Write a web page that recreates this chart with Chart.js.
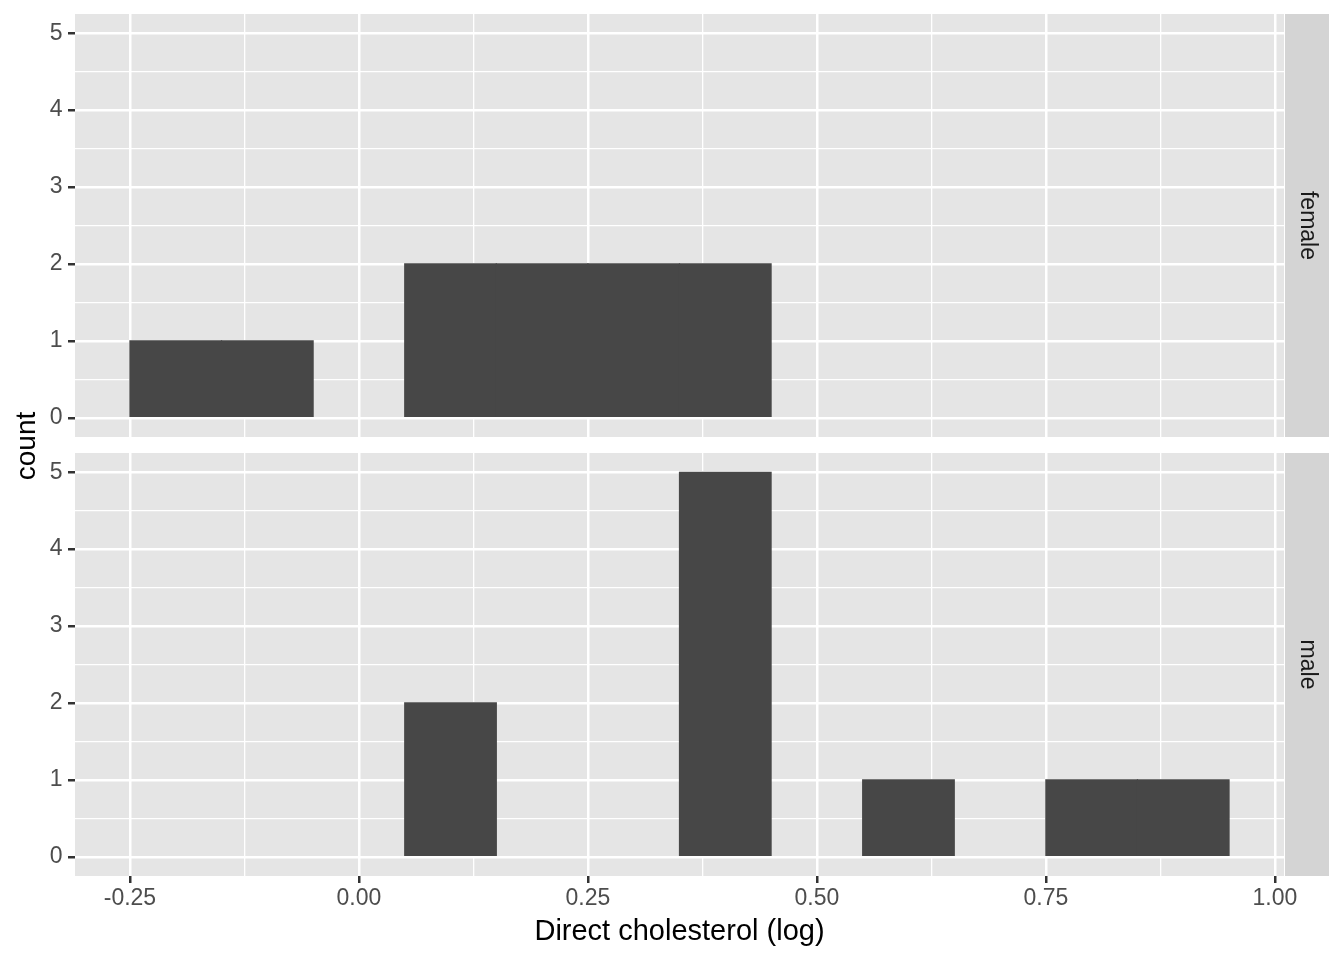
<!DOCTYPE html>
<html><head><meta charset="utf-8">
<script src="https://cdn.jsdelivr.net/npm/chart.js@4.4.1/dist/chart.umd.min.js"></script>
<style>
html,body{margin:0;padding:0;background:#fff;}
#wrap{position:relative;width:1344px;height:960px;overflow:hidden;background:#fff;}
canvas{position:absolute;left:0;}
#ylab{position:absolute;left:-74px;top:432px;width:200px;height:28px;line-height:28px;text-align:center;
  font-family:"Liberation Sans",Arial,sans-serif;font-size:28px;color:#000;transform:rotate(-90deg);transform-origin:50% 50%;white-space:nowrap;}
</style></head><body>
<div id="wrap">
<canvas id="c1" width="1344" height="445" style="top:0;width:1344px;height:445px"></canvas>
<canvas id="c2" width="1344" height="515" style="top:445px;width:1344px;height:515px"></canvas>
<div id="ylab"></div>
</div>
<script>
// ---- data ----
const binCenters = [-0.2, -0.1, 0.0, 0.1, 0.2, 0.3, 0.4, 0.5, 0.6, 0.7, 0.8, 0.9];
const femaleCounts = [1, 1, 0, 2, 2, 2, 2, 0, 0, 0, 0, 0];
const maleCounts   = [0, 0, 0, 2, 0, 0, 5, 0, 1, 0, 1, 1];
const panelLabels = ['female', 'male'];
const xTickValues = [-0.25, -0.125, 0, 0.125, 0.25, 0.375, 0.5, 0.625, 0.75, 0.875, 1.0];
const yTickValues = [0, 0.5, 1, 1.5, 2, 2.5, 3, 3.5, 4, 4.5, 5];
const xTitle = 'Direct cholesterol (log)';
const yTitle = 'count';

// ---- style ----
const FONT = '"Liberation Sans", Arial, sans-serif';
const PANEL_BG = '#E5E5E5';
const STRIP_BG = '#D4D4D4';
const BAR = '#474747';
const TICK_TXT = '#4D4D4D';
const TICK_MARK = '#333333';

document.getElementById('ylab').textContent = yTitle;
Chart.defaults.font.family = FONT;

const isMajorX = v => Math.abs(v * 4 - Math.round(v * 4)) < 1e-6;
const isMajorY = v => Math.abs(v - Math.round(v)) < 1e-6;

const panelPlugin = {
  id: 'panel',
  beforeDraw(chart) {
    const a = chart.chartArea, ctx = chart.ctx;
    ctx.save();
    ctx.fillStyle = PANEL_BG;
    ctx.fillRect(a.left, a.top, a.right - a.left, a.bottom - a.top);
    ctx.restore();
  },
  afterDraw(chart, args, opts) {
    const a = chart.chartArea, ctx = chart.ctx;
    ctx.save();
    ctx.fillStyle = STRIP_BG;
    ctx.fillRect(a.right + 1, a.top, 44, a.bottom - a.top);
    ctx.translate(a.right + 1 + 22, (a.top + a.bottom) / 2);
    ctx.rotate(Math.PI / 2);
    ctx.fillStyle = '#1A1A1A';
    ctx.font = '23px ' + FONT;
    ctx.textAlign = 'center';
    ctx.textBaseline = 'middle';
    ctx.fillText(opts.label, 0, 0);
    ctx.restore();
  }
};

function makeChart(id, counts, label, showXAxis) {
  const data = binCenters.map((x, i) => ({x: x, y: counts[i] > 0 ? counts[i] : null}));
  return new Chart(document.getElementById(id), {
    type: 'bar',
    data: {datasets: [{data: data, backgroundColor: BAR, borderWidth: 0, inflateAmount: 0.6,
      barPercentage: 1, categoryPercentage: 1}]},
    plugins: [panelPlugin],
    options: {
      responsive: false, animation: false, devicePixelRatio: 1, events: [],
      layout: {padding: showXAxis ? {top: 8, right: 60, bottom: 0, left: 0}
                                  : {top: 14, right: 60, bottom: 8, left: 0}},
      plugins: {legend: {display: false}, tooltip: {enabled: false}, panel: {label: label}},
      scales: {
        x: {
          type: 'linear', min: -0.31, max: 1.01, offset: false,
          afterBuildTicks: s => { s.ticks = xTickValues.map(v => ({value: v})); },
          afterFit: s => { s.height = showXAxis ? 84 : 0; s.paddingLeft = 0; s.paddingRight = 0; },
          border: {display: false},
          grid: {
            offset: false,
            color: '#FFFFFF',
            lineWidth: c => (c.tick && isMajorX(c.tick.value)) ? 2.5 : 1.3,
            drawTicks: showXAxis, tickLength: 7, tickWidth: 2.5,
            tickColor: c => (c.tick && isMajorX(c.tick.value)) ? TICK_MARK : 'rgba(0,0,0,0)'
          },
          ticks: {
            display: showXAxis, autoSkip: false, maxRotation: 0, minRotation: 0, padding: 1.5,
            color: TICK_TXT, font: {size: 23},
            callback: v => isMajorX(v) ? v.toFixed(2) : ''
          },
          title: {display: showXAxis, text: xTitle, color: '#000', font: {size: 29},
            padding: {top: 0, bottom: 11}}
        },
        y: {
          type: 'linear', min: -0.25, max: 5.25,
          afterBuildTicks: s => { s.ticks = yTickValues.map(v => ({value: v})); },
          afterFit: s => { s.width = 75; s.paddingTop = 0; s.paddingBottom = 0; },
          border: {display: false},
          grid: {
            offset: false,
            color: '#FFFFFF',
            lineWidth: c => (c.tick && isMajorY(c.tick.value)) ? 2.5 : 1.3,
            drawTicks: true, tickLength: 7, tickWidth: 2.5,
            tickColor: c => (c.tick && isMajorY(c.tick.value)) ? TICK_MARK : 'rgba(0,0,0,0)'
          },
          ticks: {
            autoSkip: false, padding: 5.5, color: TICK_TXT, font: {size: 23},
            callback: v => isMajorY(v) ? String(Math.round(v)) : ''
          }
        }
      }
    }
  });
}

makeChart('c1', femaleCounts, panelLabels[0], false);
makeChart('c2', maleCounts, panelLabels[1], true);
</script>
</body></html>
